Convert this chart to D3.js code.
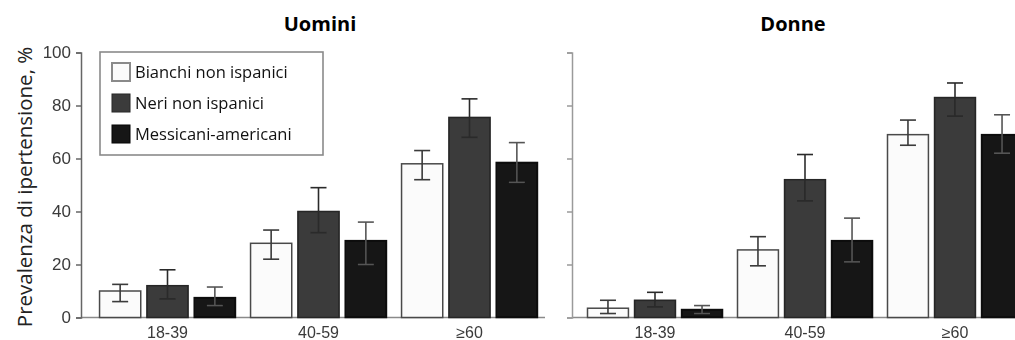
<!DOCTYPE html>
<html>
<head>
<meta charset="utf-8">
<script src="https://cdn.jsdelivr.net/npm/d3@7/dist/d3.min.js"></script>
<style>
  html, body { margin: 0; padding: 0; background: #fff; }
  svg { display: block; }
</style>
</head>
<body>
<svg id="chart" width="1015" height="340"></svg>
<script>
// Age groups and ethnic groups
const ageGroups = ["18-39", "40-59", "≥60"];
const seriesNames = ["Bianchi non ispanici", "Neri non ispanici", "Messicani-americani"];
const yTicks = [0, 20, 40, 60, 80, 100];

// Prevalence of hypertension (%), men
const menWhite = [10, 28, 58];
const menWhiteLow = [6, 22, 52];
const menWhiteHigh = [12.5, 33, 63];
const menBlack = [12, 40, 75.5];
const menBlackLow = [7, 32, 68];
const menBlackHigh = [18, 49, 82.5];
const menMexican = [7.5, 29, 58.5];
const menMexicanLow = [4.5, 20, 51];
const menMexicanHigh = [11.5, 36, 66];

// Prevalence of hypertension (%), women
const womenWhite = [3.5, 25.5, 69];
const womenWhiteLow = [1.5, 19.5, 65];
const womenWhiteHigh = [6.5, 30.5, 74.5];
const womenBlack = [6.5, 52, 83];
const womenBlackLow = [4, 44, 76];
const womenBlackHigh = [9.5, 61.5, 88.5];
const womenMexican = [3, 29, 69];
const womenMexicanLow = [1.5, 21, 62];
const womenMexicanHigh = [4.5, 37.5, 76.5];

const fills = ["#fbfbfb", "#3a3a3a", "#121212"];
const strokes = ["#4a4a4a", "#262626", "#0a0a0a"];
const errColors = ["#3a3a3a", "#2a2a2a", "#555"];

function panelRows(vals, lows, highs) {
  const rows = [];
  ageGroups.forEach((age, i) => {
    seriesNames.forEach((s, j) => {
      rows.push({ age, series: s, idx: j, value: vals[j][i], low: lows[j][i], high: highs[j][i] });
    });
  });
  return rows;
}

const menRows = panelRows([menWhite, menBlack, menMexican],
  [menWhiteLow, menBlackLow, menMexicanLow],
  [menWhiteHigh, menBlackHigh, menMexicanHigh]);
const womenRows = panelRows([womenWhite, womenBlack, womenMexican],
  [womenWhiteLow, womenBlackLow, womenMexicanLow],
  [womenWhiteHigh, womenBlackHigh, womenMexicanHigh]);

const svg = d3.select("#chart");

// soft focus for the printed plot area
const defs = svg.append("defs");
defs.append("filter").attr("id", "soft").attr("x", "-5%").attr("y", "-5%").attr("width", "110%").attr("height", "110%")
  .append("feGaussianBlur").attr("stdDeviation", 0.7);

const y = d3.scaleLinear().domain([0, 100]).range([317.5, 52.5]);

const panels = [
  { title: "Uomini", rows: menRows, axisX: 81, range: [92, 545], labels: true, titleX: 320 },
  { title: "Donne", rows: womenRows, axisX: 572, range: [580, 1030], labels: false, titleX: 793 }
];

panels.forEach(p => {
  const x0 = d3.scaleBand().domain(ageGroups).range(p.range).paddingInner(0.1).paddingOuter(0.05);
  const x1 = d3.scaleBand().domain(seriesNames).range([0, x0.bandwidth()]).paddingInner(0.13);

  const g = svg.append("g").attr("filter", "url(#soft)");

  // baseline
  g.append("line")
    .attr("x1", p.axisX).attr("x2", p.range[1])
    .attr("y1", y(0)).attr("y2", y(0))
    .attr("stroke", "#8a8a8a").attr("stroke-width", 1.5);

  // y axis
  const axis = d3.axisLeft(y).tickValues(yTicks).tickSize(5).tickPadding(5)
    .tickFormat(p.labels ? d3.format("d") : () => "");
  const ax = g.append("g").attr("transform", `translate(${p.axisX},0)`).call(axis);
  ax.select(".domain").attr("stroke", p.labels ? "#666" : "#9a9a9a").attr("stroke-width", 1.5);
  ax.selectAll(".tick line").attr("stroke", p.labels ? "#666" : "#9a9a9a").attr("stroke-width", 1.5);
  ax.selectAll(".tick text")
    .attr("font-family", "Liberation Sans, Arial, sans-serif")
    .attr("font-size", 17).attr("fill", "#3a3a3a");

  // x category labels
  const xa = d3.axisBottom(x0).tickSize(0).tickPadding(9);
  const xg = g.append("g").attr("transform", `translate(0,${y(0)})`).call(xa);
  xg.select(".domain").remove();
  xg.selectAll(".tick text")
    .attr("font-family", "Liberation Sans, Arial, sans-serif")
    .attr("font-size", 16).attr("fill", "#3a3a3a");

  // bars
  g.selectAll("rect.bar").data(p.rows).join("rect")
    .attr("class", "bar")
    .attr("x", d => x0(d.age) + x1(d.series))
    .attr("y", d => y(d.value))
    .attr("width", x1.bandwidth())
    .attr("height", d => y(0) - y(d.value))
    .attr("fill", d => fills[d.idx])
    .attr("stroke", d => strokes[d.idx])
    .attr("stroke-width", 1.5);

  // error bars
  const cap = 8;
  const eb = g.selectAll("g.err").data(p.rows).join("g").attr("class", "err")
    .attr("stroke", d => errColors[d.idx]).attr("stroke-width", 1.6);
  const cx = d => x0(d.age) + x1(d.series) + x1.bandwidth() / 2;
  eb.append("line").attr("x1", cx).attr("x2", cx).attr("y1", d => y(d.low)).attr("y2", d => y(d.high));
  eb.append("line").attr("x1", d => cx(d) - cap).attr("x2", d => cx(d) + cap).attr("y1", d => y(d.high)).attr("y2", d => y(d.high));
  eb.append("line").attr("x1", d => cx(d) - cap).attr("x2", d => cx(d) + cap).attr("y1", d => y(d.low)).attr("y2", d => y(d.low));

  // panel title
  svg.append("text")
    .attr("x", p.titleX).attr("y", 31)
    .attr("text-anchor", "middle")
    .attr("font-family", "Open Sans, sans-serif")
    .attr("font-weight", "bold").attr("font-size", 20)
    .attr("fill", "#000")
    .text(p.title);
});

// y axis title
svg.append("text")
  .attr("transform", "translate(32,187) rotate(-90)")
  .attr("text-anchor", "middle")
  .attr("font-family", "Open Sans, sans-serif")
  .attr("font-size", 20.5).attr("fill", "#222")
  .text("Prevalenza di ipertensione, %");

// legend
const legend = svg.append("g");
legend.append("rect")
  .attr("x", 100).attr("y", 52).attr("width", 223).attr("height", 103)
  .attr("fill", "#fff").attr("stroke", "#8a8a8a").attr("stroke-width", 1.6)
  .attr("filter", "url(#soft)");
const rowsY = [72, 103, 134];
seriesNames.forEach((s, i) => {
  legend.append("rect")
    .attr("x", 112).attr("y", rowsY[i] - 9).attr("width", 18).attr("height", 18)
    .attr("fill", fills[i]).attr("stroke", i === 0 ? "#8a8a8a" : strokes[i]).attr("stroke-width", i === 0 ? 2 : 1)
    .attr("filter", "url(#soft)");
  legend.append("text")
    .attr("x", 135).attr("y", rowsY[i]).attr("dy", "0.35em")
    .attr("font-family", "Open Sans, sans-serif")
    .attr("font-size", 16.5).attr("fill", "#111")
    .text(s);
});
</script>
</body>
</html>
